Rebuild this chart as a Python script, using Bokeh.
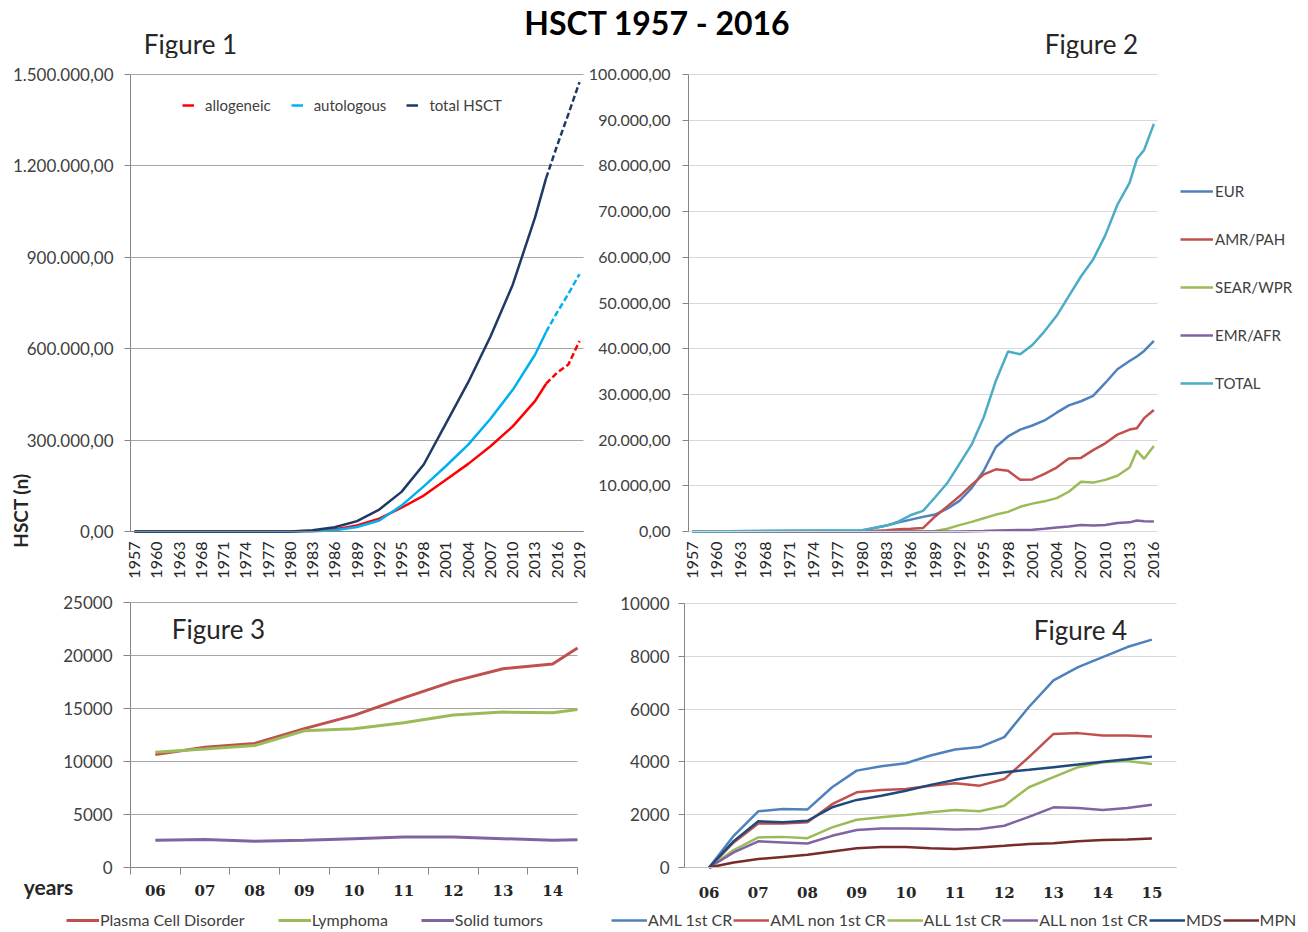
import math
from bokeh.plotting import figure
from bokeh.models import Range1d, FixedTicker, Legend, LegendItem, Label, Grid
from bokeh.layouts import column, row
from bokeh.embed import file_html
from bokeh.resources import INLINE

# ---------------- data ----------------
TITLE = "HSCT 1957 - 2016"
PANEL_TITLES = ["Figure 1", "Figure 2", "Figure 3", "Figure 4"]

# Figure 1 (cumulative HSCT)
fig1_year_labels = ["1957", "1960", "1963", "1968", "1971", "1974", "1977", "1980", "1983", "1986",
                    "1989", "1992", "1995", "1998", "2001", "2004", "2007", "2010", "2013", "2016", "2019"]
fig1_y_ticks = [0, 300000, 600000, 900000, 1200000, 1500000]
fig1_y_labels = ["0,00", "300.000,00", "600.000,00", "900.000,00", "1.200.000,00", "1.500.000,00"]
fig1_pos = [0, 7, 8, 9, 10, 11, 12, 13, 14, 15, 16, 17, 18, 18.5]
allogeneic = [0, 0, 2000, 7000, 20000, 42000, 78000, 118000, 170000, 222000, 280000, 345000, 428000, 485000]
autologous = [0, 0, 1000, 4000, 15000, 36000, 85000, 148000, 215000, 285000, 370000, 465000, 580000, 655000]
total_hsct = [0, 0, 4000, 14000, 34000, 72000, 130000, 220000, 355000, 490000, 640000, 810000, 1030000, 1160000]
fig1_proj_pos = [18.5, 19, 19.5, 20]
allogeneic_proj = [485000, 522000, 548000, 625000]
autologous_proj = [655000, 720000, 780000, 845000]
total_proj = [1160000, 1268000, 1370000, 1475000]

# Figure 2 (by region)
fig2_year_labels = ["1957", "1960", "1963", "1968", "1971", "1974", "1977", "1980", "1983", "1986",
                    "1989", "1992", "1995", "1998", "2001", "2004", "2007", "2010", "2013", "2016"]
fig2_y_ticks = [0, 10000, 20000, 30000, 40000, 50000, 60000, 70000, 80000, 90000, 100000]
fig2_y_labels = ["0,00", "10.000,00", "20.000,00", "30.000,00", "40.000,00", "50.000,00",
                 "60.000,00", "70.000,00", "80.000,00", "90.000,00", "100.000,00"]
fig2_pos = [0, 7, 8, 8.5, 9, 9.5, 10, 10.5, 11, 11.5, 12, 12.5, 13, 13.5, 14, 14.5, 15, 15.5,
            16, 16.5, 17, 17.5, 18, 18.3, 18.6, 19]
eur = [0, 200, 1300, 2000, 2600, 3200, 3700, 5000, 6700, 9500, 13300, 18500, 20800, 22300, 23200, 24300,
       26000, 27600, 28500, 29700, 32500, 35500, 37300, 38300, 39500, 41700]
amr_pah = [0, 0, 300, 500, 600, 750, 3300, 5500, 7700, 10200, 12500, 13600, 13300, 11300, 11400, 12600,
           14000, 16000, 16100, 17800, 19300, 21200, 22300, 22600, 24800, 26600]
sear_wpr = [0, 0, 0, 0, 0, 0, 100, 600, 1400, 2100, 2900, 3700, 4300, 5400, 6100, 6600,
            7300, 8700, 10900, 10700, 11300, 12200, 14000, 17700, 15900, 18700]
emr_afr = [0, 0, 0, 0, 0, 0, 0, 0, 0, 50, 100, 200, 300, 350, 400, 600,
           900, 1100, 1400, 1300, 1400, 1850, 2000, 2400, 2250, 2200]
total_region = [0, 300, 1300, 2200, 3600, 4500, 7500, 10600, 14800, 19000, 25000, 33000, 39400, 38800,
                40800, 43800, 47200, 51500, 55800, 59500, 64800, 71500, 76300, 81500, 83500, 89200]

# Figure 3 (autologous indications)
fig3_year_labels = ["06", "07", "08", "09", "10", "11", "12", "13", "14"]
fig3_x = [6, 7, 8, 9, 10, 11, 12, 13, 14, 14.5]
plasma_cell = [10650, 11340, 11700, 13100, 14350, 16000, 17560, 18750, 19190, 20700]
lymphoma = [10870, 11180, 11500, 12900, 13100, 13660, 14380, 14660, 14600, 14900]
solid_tumors = [2560, 2630, 2470, 2560, 2720, 2870, 2880, 2720, 2560, 2620]
fig3_y_ticks = [0, 5000, 10000, 15000, 20000, 25000]

# Figure 4 (allogeneic indications), read every half year
fig4_year_labels = ["06", "07", "08", "09", "10", "11", "12", "13", "14", "15"]
fig4_ticks = [6, 7, 8, 9, 10, 11, 12, 13, 14, 15]
fig4_x = [6, 6.5, 7, 7.5, 8, 8.5, 9, 9.5, 10, 10.5, 11, 11.5, 12, 12.5, 13, 13.5, 14, 14.5, 15]
aml_1cr = [0, 1200, 2130, 2215, 2200, 3040, 3670, 3835, 3950, 4240, 4470, 4560, 4940, 6080, 7090,
           7590, 7970, 8350, 8630]
aml_non1cr = [0, 950, 1670, 1670, 1710, 2400, 2850, 2940, 2970, 3100, 3190, 3100, 3350, 4180, 5060,
              5090, 5000, 5000, 4960]
all_1cr = [0, 660, 1140, 1160, 1110, 1520, 1810, 1900, 1990, 2090, 2180, 2130, 2340, 3040, 3420,
           3800, 3990, 4030, 3920]
all_non1cr = [0, 570, 990, 950, 910, 1200, 1420, 1480, 1480, 1470, 1440, 1460, 1580, 1920, 2280,
              2250, 2180, 2250, 2380]
mds = [0, 1000, 1750, 1710, 1770, 2280, 2560, 2720, 2910, 3130, 3320, 3480, 3610, 3700, 3800,
       3900, 4010, 4100, 4200]
mpn = [0, 190, 320, 400, 480, 610, 730, 780, 780, 730, 700, 760, 820, 890, 920, 990, 1040, 1060, 1100]
fig4_y_ticks = [0, 2000, 4000, 6000, 8000, 10000]

# ---------------- style ----------------
FONT = "Lato"
TXT = "#404040"
DARK = "#262626"
AXIS = "#868686"
HAS_CROSS = "cross_bounds" in Grid.properties()


def lin_range(c_start, c_end, a0, a1, d0, d1):
    """Range whose ends fall on canvas pixels c_start/c_end when d0, d1 sit on pixels a0, a1."""
    s = (d1 - d0) / (a1 - a0)
    return Range1d(d0 + (c_start - a0) * s, d0 + (c_end - a0) * s)


def make_panel(cx, cy, ax, ay, xd, yd, y_ticks, grid_color):
    """cx/cy: canvas pixel box; ax/ay: plot-area pixel box (ay = bottom, top); xd/yd: data at area edges."""
    p = figure(width=cx[1] - cx[0], height=cy[1] - cy[0],
               x_range=lin_range(cx[0], cx[1], ax[0], ax[1], xd[0], xd[1]),
               y_range=lin_range(cy[1], cy[0], ay[0], ay[1], yd[0], yd[1]),
               output_backend="svg", toolbar_location=None, title=None, min_border=0)
    p.outline_line_color = None
    p.background_fill_color = "white"
    p.border_fill_color = "white"
    p.xgrid.visible = False
    p.xaxis.fixed_location = yd[0]
    p.yaxis.fixed_location = xd[0]
    p.xaxis.bounds = (xd[0], xd[1])
    p.yaxis.bounds = (yd[0], yd[1])
    for a in (p.xaxis[0], p.yaxis[0]):
        a.major_label_text_font = FONT
        a.major_label_text_color = TXT
        a.minor_tick_line_color = None
        a.axis_line_color = AXIS
        a.major_tick_line_color = AXIS
        a.major_tick_in = 0
    p.yaxis.ticker = FixedTicker(ticks=y_ticks)
    if HAS_CROSS:
        p.ygrid.ticker = FixedTicker(ticks=y_ticks)
        p.ygrid.bounds = (yd[0], yd[1])
        p.ygrid.cross_bounds = (xd[0], xd[1])
        p.ygrid.grid_line_color = grid_color
    else:
        p.ygrid.visible = False
        p.segment(x0=[xd[0]] * len(y_ticks), x1=[xd[1]] * len(y_ticks), y0=y_ticks, y1=y_ticks,
                  line_color=grid_color, line_width=1, level="underlay")
    return p


def add_text(p, x, y, text, size, bold=False, color=DARK, angle=0.0):
    p.add_layout(Label(x=x, y=y, x_units="screen", y_units="screen", text=text,
                       text_font=FONT, text_font_size=size, text_color=color,
                       text_font_style="bold" if bold else "normal", angle=angle,
                       text_align="center", text_baseline="middle"))


def legend(items, loc, orient, gw, standoff, spacing, size, lh=20):
    # loc = bottom-left corner of the legend box, in pixels from the canvas bottom-left
    return Legend(items=items, location=loc, orientation=orient, glyph_width=gw, glyph_height=lh,
                  label_standoff=standoff, spacing=spacing, padding=0, margin=0,
                  border_line_alpha=0, background_fill_alpha=0, label_height=lh,
                  label_text_font=FONT, label_text_font_size=size, label_text_color=TXT)


# ---------------- title strip (page y 0..58) ----------------
strip = figure(width=1306, height=58, x_range=Range1d(0, 1306), y_range=Range1d(0, 58),
               output_backend="svg", toolbar_location=None, title=None, min_border=0,
               x_axis_type=None, y_axis_type=None)
strip.outline_line_color = None
strip.grid.visible = False
add_text(strip, 657, 36, TITLE, "32px", bold=True, color="#000000")
add_text(strip, 190, 15, PANEL_TITLES[0], "26px")
add_text(strip, 1091, 15, PANEL_TITLES[1], "26px")

# ---------------- Figure 1 (page x 0..588, y 58..588) ----------------
p1 = make_panel((0, 588), (58, 588), (130, 583), (531, 74), (-0.18, 20.18), (0, 1500000),
                fig1_y_ticks, "#A6A6A6")
p1.yaxis.major_label_overrides = dict(zip(fig1_y_ticks, fig1_y_labels))
p1.yaxis.major_label_text_font_size = "17px"
p1.yaxis.major_tick_out = 6
p1.yaxis.major_label_standoff = 11
p1.xaxis.ticker = FixedTicker(ticks=list(range(len(fig1_year_labels))))
p1.xaxis.major_label_overrides = {i: s for i, s in enumerate(fig1_year_labels)}
p1.xaxis.major_label_orientation = math.pi / 2
p1.xaxis.major_label_text_font_size = "16px"
p1.xaxis.major_label_text_color = DARK
p1.xaxis.major_tick_out = 0
p1.xaxis.major_label_standoff = 10

c_allo, c_auto, c_tot = "#FF0000", "#00B0F0", "#1F3864"
r_allo = p1.line(fig1_pos, allogeneic, line_color=c_allo, line_width=2.5)
r_auto = p1.line(fig1_pos, autologous, line_color=c_auto, line_width=2.5)
r_tot = p1.line(fig1_pos, total_hsct, line_color=c_tot, line_width=2.5)
p1.line(fig1_proj_pos, allogeneic_proj, line_color=c_allo, line_width=2.5, line_dash="6 3")
p1.line(fig1_proj_pos, autologous_proj, line_color=c_auto, line_width=2.5, line_dash="6 3")
p1.line(fig1_proj_pos, total_proj, line_color=c_tot, line_width=2.5, line_dash="6 3")
p1.add_layout(legend([LegendItem(label="allogeneic", renderers=[r_allo]),
                      LegendItem(label="autologous", renderers=[r_auto]),
                      LegendItem(label="total HSCT", renderers=[r_tot])],
                     (182, 473), "horizontal", 12, 11, 20, "15px"))
add_text(p1, 20, 78, "HSCT (n)", "19px", bold=True, angle=math.pi / 2)

# ---------------- Figure 2 (page x 588..1306, y 58..588) ----------------
p2 = make_panel((588, 1306), (58, 588), (688, 1157), (531, 74), (-0.15, 19.15), (0, 100000),
                fig2_y_ticks, "#D9D9D9")
p2.yaxis.major_label_overrides = dict(zip(fig2_y_ticks, fig2_y_labels))
p2.yaxis.major_label_text_font_size = "16px"
p2.yaxis.major_tick_out = 6
p2.yaxis.major_label_standoff = 12
p2.xaxis.ticker = FixedTicker(ticks=list(range(len(fig2_year_labels))))
p2.xaxis.major_label_overrides = {i: s for i, s in enumerate(fig2_year_labels)}
p2.xaxis.major_label_orientation = math.pi / 2
p2.xaxis.major_label_text_font_size = "16px"
p2.xaxis.major_label_text_color = DARK
p2.xaxis.major_tick_out = 0
p2.xaxis.major_label_standoff = 10
p2.xaxis.axis_line_color = "#D9D9D9"

region_series = [("EUR", eur, "#4F81BD"), ("AMR/PAH", amr_pah, "#C0504D"),
                 ("SEAR/WPR", sear_wpr, "#9BBB59"), ("EMR/AFR", emr_afr, "#8064A2"),
                 ("TOTAL", total_region, "#4BACC6")]
items2 = []
for name, vals, col in region_series:
    r = p2.line(fig2_pos, vals, line_color=col, line_width=2.5)
    items2.append(LegendItem(label=name, renderers=[r]))
p2.add_layout(legend(items2, (592, 195), "vertical", 33, 2, 28, "15px"))

# ---------------- Figure 3 (page x 0..600, y 588..930) ----------------
p3 = make_panel((0, 600), (588, 930), (130, 577), (867, 602), (5.5, 14.5), (0, 25000),
                fig3_y_ticks, "#A6A6A6")
p3.yaxis.major_label_text_font_size = "17px"
p3.yaxis.major_tick_out = 7
p3.yaxis.major_label_standoff = 11
p3.xaxis.ticker = FixedTicker(ticks=[6 + i for i in range(len(fig3_year_labels))],
                              minor_ticks=[5.5 + i for i in range(len(fig3_year_labels) + 1)])
p3.xaxis.major_label_overrides = {6 + i: s for i, s in enumerate(fig3_year_labels)}
p3.xaxis.major_tick_out = 0
p3.xaxis.minor_tick_line_color = AXIS
p3.xaxis.minor_tick_out = 7
p3.xaxis.minor_tick_in = 0
p3.xaxis.major_label_text_font = "DejaVu Serif"
p3.xaxis.major_label_text_font_style = "bold"
p3.xaxis.major_label_text_font_size = "15px"
p3.xaxis.major_label_text_color = DARK
p3.xaxis.major_label_standoff = 10

items3 = []
for name, vals, col in [("Plasma Cell Disorder", plasma_cell, "#C0504D"),
                        ("Lymphoma", lymphoma, "#9BBB59"),
                        ("Solid tumors", solid_tumors, "#8064A2")]:
    r = p3.line(fig3_x, vals, line_color=col, line_width=3)
    items3.append(LegendItem(label=name, renderers=[r]))
p3.add_layout(legend(items3, (66, 1), "horizontal", 33, 1, 33, "16px", lh=16))
add_text(p3, 218, 302, PANEL_TITLES[2], "26px")
add_text(p3, 48, 44, "years", "21px", bold=True)

# ---------------- Figure 4 (page x 600..1306, y 588..930) ----------------
p4 = make_panel((600, 1306), (588, 930), (684, 1176), (867, 603), (5.5, 15.5), (0, 10000),
                fig4_y_ticks, "#D9D9D9")
p4.yaxis.major_label_text_font_size = "17px"
p4.yaxis.major_tick_out = 6
p4.yaxis.major_label_standoff = 9
p4.xaxis.ticker = FixedTicker(ticks=fig4_ticks)
p4.xaxis.major_label_overrides = {v: s for v, s in zip(fig4_ticks, fig4_year_labels)}
p4.xaxis.major_tick_out = 0
p4.xaxis.axis_line_color = "#BFBFBF"
p4.xaxis.major_label_text_font = "DejaVu Serif"
p4.xaxis.major_label_text_font_style = "bold"
p4.xaxis.major_label_text_font_size = "15px"
p4.xaxis.major_label_text_color = DARK
p4.xaxis.major_label_standoff = 19

items4 = []
for name, vals, col in [("AML 1st CR", aml_1cr, "#4F81BD"),
                        ("AML non 1st CR", aml_non1cr, "#C0504D"),
                        ("ALL 1st CR", all_1cr, "#9BBB59"),
                        ("ALL non 1st CR", all_non1cr, "#8064A2"),
                        ("MDS", mds, "#1F497D"),
                        ("MPN", mpn, "#772C2A")]:
    r = p4.line(fig4_x, vals, line_color=col, line_width=2.5)
    items4.append(LegendItem(label=name, renderers=[r]))
p4.add_layout(legend(items4, (11, 1), "horizontal", 36, 1, 1, "16px", lh=16))
add_text(p4, 480, 301, PANEL_TITLES[3], "26px")

layout = column(strip, row(p1, p2), row(p3, p4))
open("out.html", "w").write(file_html(layout, INLINE))
